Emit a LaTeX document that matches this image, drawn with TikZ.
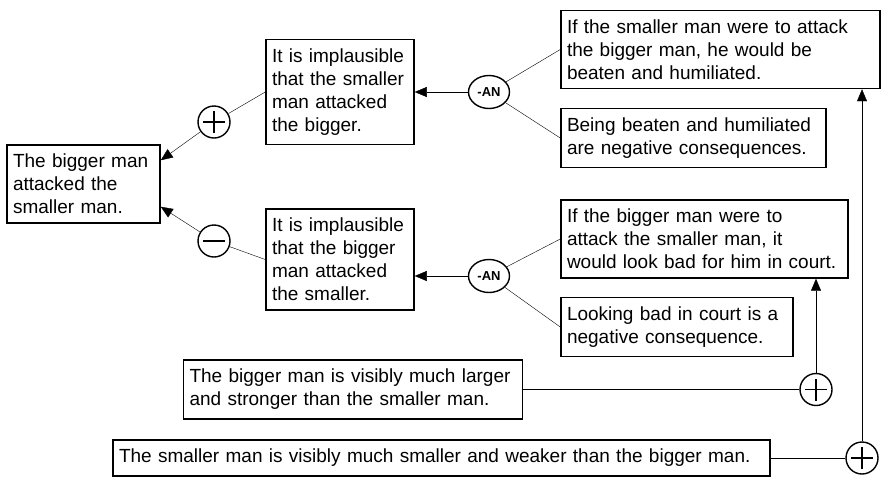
\documentclass[tikz,border=0pt]{standalone}
\usepackage{fontspec}
\setmainfont{Liberation Sans}
\usetikzlibrary{calc,arrows.meta,shapes.geometric,positioning}
\tikzset{claim/.style={draw, rectangle, line width=1.5pt, align=left, inner xsep=6pt, inner ysep=9pt, font=\fontsize{19}{23}\selectfont},
  sign/.style={draw, circle, line width=1.4pt, minimum size=32pt, inner sep=0pt},
  pro/.style={sign, path picture={\draw[line width=1.5pt] ([xshift=-11pt]path picture bounding box.center) -- ([xshift=11pt]path picture bounding box.center) ([yshift=-11pt]path picture bounding box.center) -- ([yshift=11pt]path picture bounding box.center);}},
  con/.style={sign, path picture={\draw[line width=1.5pt] ([xshift=-11pt]path picture bounding box.center) -- ([xshift=11pt]path picture bounding box.center);}},
  scheme/.style={draw, ellipse, line width=1.4pt, minimum width=41pt, minimum height=33pt, inner sep=0pt, font=\fontsize{13}{13}\bfseries\selectfont},
  >={Triangle[length=12pt,width=10pt]}, line width=1.4pt}

\begin{document}
\begin{tikzpicture}[x=1pt,y=-1pt]
    \useasboundingbox (0,0) rectangle (882,477);
    \node[claim,text width=141pt] (C0) at (83.5,184) {The bigger man\\attacked the\\smaller man.};
    \node[claim,text width=136pt] (P1) at (340,92) {It is implausible\\that the smaller\\man attacked\\the bigger.};
    \node[claim,text width=136pt] (P2) at (340,259.5) {It is implausible\\that the bigger\\man attacked\\the smaller.};
    \node[claim,text width=307pt] (R1) at (720.5,49.5) {If the smaller man were to attack\\the bigger man, he would be\\beaten and humiliated.};
    \node[claim,text width=253pt] (R2) at (693.5,138) {Being beaten and humiliated\\are negative consequences.};
    \node[claim,text width=275pt] (R3) at (704.5,239) {If the bigger man were to\\attack the smaller man, it\\would look bad for him in court.};
    \node[claim,text width=220pt] (R4) at (677,327) {Looking bad in court is a\\negative consequence.};
    \node[claim,text width=327pt] (F1) at (353,389.5) {The bigger man is visibly much larger\\and stronger than the smaller man.};
    \node[claim,text width=645pt] (F2) at (441.5,458) {The smaller man is visibly much smaller and weaker than the bigger man.};
    \node[pro] (S1) at (214,122) {};
    \node[con] (S2) at (214,241) {};
    \node[scheme] (AN1) at (489,92) {-AN};
    \node[scheme] (AN2) at (489,276) {-AN};
    \node[pro] (Q1) at (816,389.5) {};
    \node[pro] (Q2) at (862,458) {};
    \draw (P1.west) -- (S1);
    \draw[->] (S1) -- ($(C0.north east)+(0,16)$);
    \draw (P2.west) -- (S2);
    \draw[->] (S2) -- ($(C0.south east)+(0,-17)$);
    \draw[->] (AN1) -- (P1.east);
    \draw (AN1) -- (R1.west);
    \draw (AN1) -- (R2.west);
    \draw[->] (AN2) -- (AN2 -| P2.east);
    \draw (AN2) -- (R3.west);
    \draw (AN2) -- (R4.west);
    \draw (F1.east) -- (Q1);
    \draw[->] (Q1) -- (Q1 |- R3.south);
    \draw (F2.east) -- (Q2);
    \draw[->] (Q2) -- (Q2 |- R1.south);
\end{tikzpicture}
\end{document}
